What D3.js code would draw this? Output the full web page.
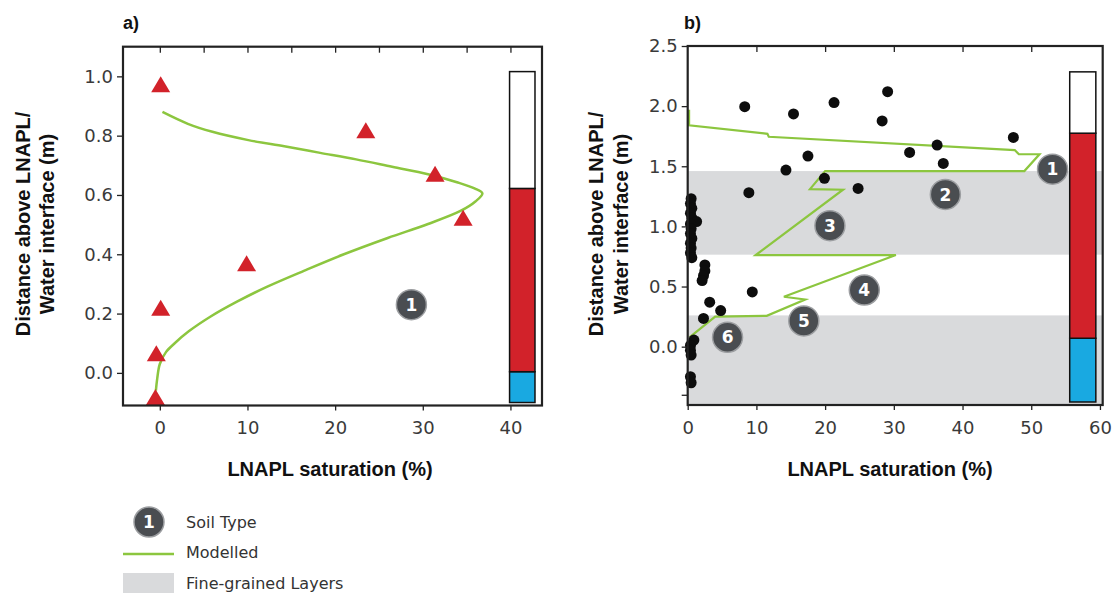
<!DOCTYPE html>
<html>
<head>
<meta charset="utf-8">
<script src="https://cdn.jsdelivr.net/npm/d3@7"></script>
<style>
  body { margin: 0; background: #fff; }
  svg { display: block; font-family: "DejaVu Sans", Verdana, sans-serif; }
  .tick text { fill: #3a3a3a; font-size: 18px; font-family: "DejaVu Sans", Verdana, sans-serif; }
  .tick line { stroke: #222; }
  .title { font-family: "Liberation Sans", Arial, sans-serif; font-weight: bold; fill: #111; }
</style>
</head>
<body>
<svg id="chart" width="1119" height="593"></svg>
<script>
// ---- panel a data ----
const triA_x = [0.1, 23.5, 31.4, 34.6, 9.9, 0.1, -0.4, -0.5];
const triA_y = [0.97, 0.815, 0.668, 0.52, 0.366, 0.216, 0.063, -0.085];
const modA_x = [0.3, 3.2, 6.0, 10.1, 14.2, 18.3, 22.4, 26.5, 30.6, 33.9, 35.9, 36.8, 36.0, 34.3, 30.6, 26.0, 21.0, 16.5, 12.2, 8.8, 5.8, 3.3, 1.7, 0.7, 0.0, -0.3, -0.45];
const modA_y = [0.88, 0.84, 0.813, 0.785, 0.764, 0.742, 0.72, 0.695, 0.67, 0.643, 0.622, 0.605, 0.578, 0.546, 0.502, 0.455, 0.40, 0.345, 0.29, 0.24, 0.19, 0.14, 0.10, 0.07, 0.03, -0.02, -0.06];
const soilA = [{n: 1, x: 28.7, y: 0.23}];
const barA_x = [39.9, 42.8];
const barA_edges = [-0.1, 0.004, 0.622, 1.016];
const ticksA_x = [0, 10, 20, 30, 40];
const topTicksA = [0, 5, 10, 15, 20, 25, 30, 35, 40];
const ticksA_y = [0, 0.2, 0.4, 0.6, 0.8, 1.0];

// ---- panel b data ----
const ptsB_x = [8.3, 15.4, 21.3, 29.1, 28.3, 17.5, 14.3, 19.9, 24.8, 8.9, 32.3, 36.3, 37.2, 47.4,
  0.5, 0.4, 0.6, 0.4, 0.6, 1.3, 0.4, 0.5, 0.4, 0.6, 0.4, 0.5, 0.4, 0.6,
  2.5, 2.5, 2.3, 2.1, 9.4, 3.2, 4.8, 2.3, 0.9, 0.4, 0.4, 0.5, 0.4, 0.5];
const ptsB_y = [1.995, 1.935, 2.03, 2.12, 1.877, 1.585, 1.468, 1.40, 1.316, 1.28, 1.615, 1.676, 1.524, 1.74,
  1.23, 1.19, 1.15, 1.11, 1.07, 1.04, 1.02, 0.98, 0.94, 0.90, 0.86, 0.82, 0.78, 0.74,
  0.68, 0.63, 0.59, 0.55, 0.455, 0.37, 0.30, 0.235, 0.055, 0.01, -0.03, -0.07, -0.25, -0.30];
const modB_x = [0.2, 0.2, 11.6, 11.8, 47.6, 48.2, 51.2, 49.0, 20.0, 17.8, 22.6, 9.9, 30.3, 14.0, 17.1, 11.5, 4.0, 0.3];
const modB_y = [1.97, 1.84, 1.77, 1.745, 1.635, 1.60, 1.60, 1.46, 1.46, 1.31, 1.305, 0.762, 0.762, 0.415, 0.392, 0.256, 0.25, 0.08];
const soilB = [
  {n: 1, x: 53.1, y: 1.476}, {n: 2, x: 37.5, y: 1.266}, {n: 3, x: 20.7, y: 1.006},
  {n: 4, x: 25.7, y: 0.471}, {n: 5, x: 16.9, y: 0.214}, {n: 6, x: 5.8, y: 0.078}
];
const bandsB = [[-0.485, 0.26], [0.765, 1.46]];
const barB_x = [55.6, 59.4];
const barB_edges = [-0.46, 0.07, 1.775, 2.285];
const ticksB_x = [0, 10, 20, 30, 40, 50, 60];
const topTicksB = [10, 20, 30, 40, 50];
const ticksB_y = [-0.4, 0, 0.5, 1.0, 1.5, 2.0, 2.5];

const barColors = ['#19a9e1', '#d2222a', '#ffffff'];
const green = '#8cc63f';

const svg = d3.select('#chart');

function soilMarker(g, x, y, n) {
  g.append('circle').attr('cx', x).attr('cy', y).attr('r', 15)
    .attr('fill', '#4a4d51').attr('stroke', '#9c9ea1').attr('stroke-width', 1.5);
  g.append('text').attr('x', x).attr('y', y).attr('dy', '0.36em')
    .attr('text-anchor', 'middle').attr('fill', '#fff')
    .attr('font-size', 17).attr('font-weight', 'bold').text(n);
}

function frame(g, xScale, yScale, opts) {
  const [x0, x1] = xScale.range();
  const [y0, y1] = yScale.range();

  // bottom axis
  g.append('g')
    .attr('transform', `translate(0,${y0})`)
    .call(d3.axisBottom(xScale).tickValues(opts.xt).tickSize(5).tickPadding(11).tickSizeOuter(0).tickFormat(d3.format('d')))
    .call(a => a.select('.domain').remove());
  // left axis
  g.append('g')
    .attr('transform', `translate(${x0},0)`)
    .call(d3.axisLeft(yScale).tickValues(opts.yt).tickSize(6).tickPadding(4).tickSizeOuter(0)
      .tickFormat(d => d < 0 ? '' : d3.format('.1f')(d)))
    .call(a => a.select('.domain').remove());
  // top inward ticks
  g.append('g')
    .attr('transform', `translate(0,${y1})`)
    .call(d3.axisBottom(xScale).tickValues(opts.top).tickSize(6).tickSizeOuter(0).tickFormat(''))
    .call(a => a.select('.domain').remove());

  g.selectAll('.tick line').attr('stroke-width', 1.3);

  g.append('rect')
    .attr('x', x0).attr('y', y1).attr('width', x1 - x0).attr('height', y0 - y1)
    .attr('fill', 'none').attr('stroke', '#222').attr('stroke-width', 2.2);
}

function colourBar(g, xScale, yScale, bx, edges) {
  for (let i = 0; i < edges.length - 1; i++) {
    g.append('rect')
      .attr('x', xScale(bx[0])).attr('width', xScale(bx[1]) - xScale(bx[0]))
      .attr('y', yScale(edges[i + 1])).attr('height', yScale(edges[i]) - yScale(edges[i + 1]))
      .attr('fill', barColors[i]).attr('stroke', '#111').attr('stroke-width', 1.5);
  }
}

function titles(g, cx, xs, ymid, labelX, label) {
  g.append('text').attr('class', 'title').attr('x', labelX).attr('y', 29).attr('font-size', 18).text(label);
  g.append('text').attr('class', 'title').attr('x', cx).attr('y', 476).attr('text-anchor', 'middle')
    .attr('font-size', 20).text('LNAPL saturation (%)');
  const lines = ['Distance above LNAPL/', 'Water interface (m)'];
  lines.forEach((t, i) => {
    g.append('text').attr('class', 'title')
      .attr('transform', `translate(${xs[i]},${ymid}) rotate(-90)`)
      .attr('text-anchor', 'middle').attr('dy', '0.35em')
      .attr('font-size', 20).text(t);
  });
}

// ---------- panel a ----------
const xA = d3.scaleLinear().domain([-4.2, 43.6]).range([123, 542]);
const yA = d3.scaleLinear().domain([-0.11, 1.1]).range([405.5, 46.7]);
const gA = svg.append('g');

colourBar(gA, xA, yA, barA_x, barA_edges);

const lineA = d3.line().x(d => xA(d[0])).y(d => yA(d[1])).curve(d3.curveCatmullRom.alpha(0.5));
gA.append('path')
  .datum(d3.zip(modA_x, modA_y))
  .attr('d', lineA).attr('fill', 'none').attr('stroke', green).attr('stroke-width', 2.5);

const tri = 'M0,-9L9.5,7L-9.5,7Z';
gA.selectAll('.tri').data(d3.zip(triA_x, triA_y)).join('path')
  .attr('class', 'tri')
  .attr('transform', d => `translate(${xA(d[0])},${yA(d[1])})`)
  .attr('d', tri).attr('fill', '#d2222a');

soilA.forEach(s => soilMarker(gA, xA(s.x), yA(s.y), s.n));
frame(gA, xA, yA, {xt: ticksA_x, yt: ticksA_y, top: topTicksA});
titles(gA, 330, [23, 47], 224, 123, 'a)');

// ---------- panel b ----------
const xB = d3.scaleLinear().domain([0, 60.4]).range([687.7, 1102.7]);
const yB = d3.scaleLinear().domain([-0.485, 2.5]).range([405, 46]);
const gB = svg.append('g');

gB.selectAll('.band').data(bandsB).join('rect')
  .attr('class', 'band')
  .attr('x', xB(0)).attr('width', xB(60.4) - xB(0))
  .attr('y', d => yB(d[1])).attr('height', d => yB(d[0]) - yB(d[1]))
  .attr('fill', '#d9dadc');

colourBar(gB, xB, yB, barB_x, barB_edges);

const lineB = d3.line().x(d => xB(d[0])).y(d => yB(d[1]));
gB.append('path')
  .datum(d3.zip(modB_x, modB_y))
  .attr('d', lineB).attr('fill', 'none').attr('stroke', green).attr('stroke-width', 2.2)
  .attr('stroke-linejoin', 'miter');

gB.selectAll('.pt').data(d3.zip(ptsB_x, ptsB_y)).join('circle')
  .attr('class', 'pt')
  .attr('cx', d => xB(d[0])).attr('cy', d => yB(d[1])).attr('r', 5.5)
  .attr('fill', '#0d0d0d');

soilB.forEach(s => soilMarker(gB, xB(s.x), yB(s.y), s.n));
frame(gB, xB, yB, {xt: ticksB_x, yt: ticksB_y, top: topTicksB});
titles(gB, 890, [596, 621], 224, 684, 'b)');

// ---------- legend ----------
const lg = svg.append('g').attr('font-size', 16).attr('fill', '#333');
soilMarker(lg, 149, 522, 1);
lg.append('text').attr('x', 186).attr('y', 522).attr('dy', '0.35em').text('Soil Type');
lg.append('line').attr('x1', 123).attr('x2', 174).attr('y1', 554).attr('y2', 554)
  .attr('stroke', green).attr('stroke-width', 2.5);
lg.append('text').attr('x', 186).attr('y', 552).attr('dy', '0.35em').text('Modelled');
lg.append('rect').attr('x', 123).attr('y', 573).attr('width', 51).attr('height', 24).attr('fill', '#d9dadc');
lg.append('text').attr('x', 186).attr('y', 583).attr('dy', '0.35em').text('Fine-grained Layers');
</script>
</body>
</html>
